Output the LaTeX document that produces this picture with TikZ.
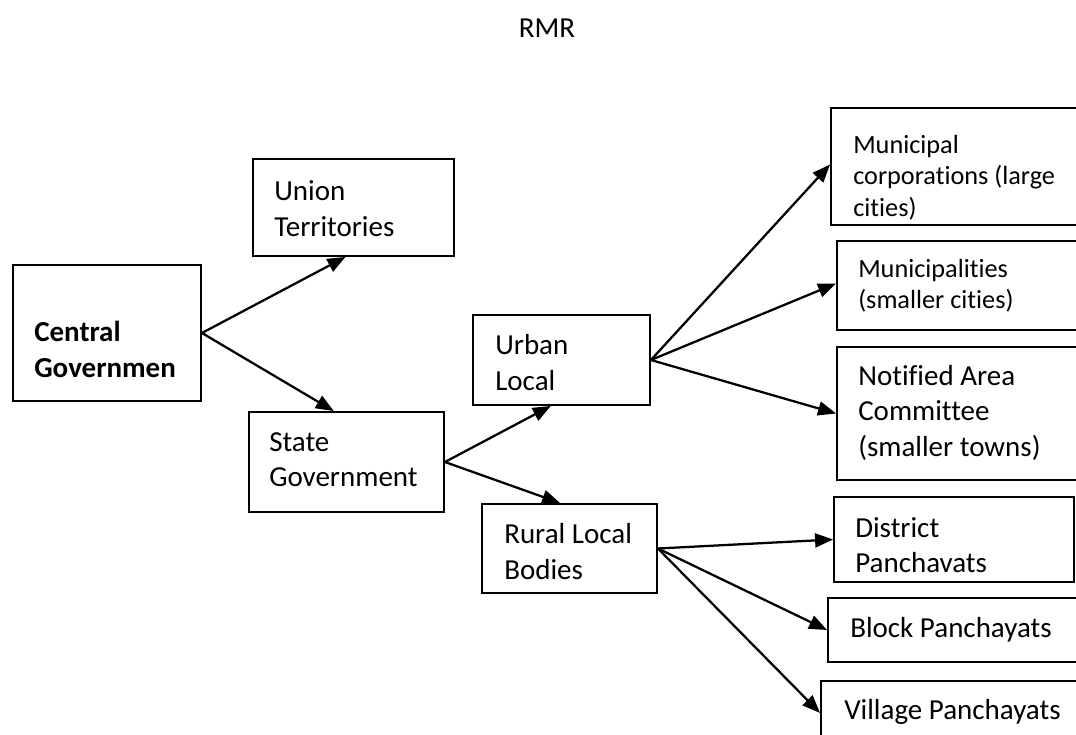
\documentclass[tikz,border=0pt]{standalone}
\usepackage{fontspec}
\setmainfont{Carlito}[RawFeature={-liga,-clig,-calt,-dlig}]
\usetikzlibrary{fit,arrows.meta}
\begin{document}
\begin{tikzpicture}[x=0.75pt,y=-0.75pt,
  box/.style={draw=black,line width=1.4pt,inner sep=0pt,fill=none},
  txt/.style={anchor=west,align=left,inner sep=0pt,font=\fontsize{21.75}{26.6}\selectfont},
  smalltxt/.style={anchor=west,align=left,inner sep=0pt,font=\fontsize{19.7}{23.5}\selectfont},
  arr/.style={line width=1.7pt,-{Triangle[length=13.5pt,width=10.5pt]}}]
\fill[white] (0,0) rectangle (1076,735);
\useasboundingbox (0,0) rectangle (1076,735);
% title
\node[inner sep=0pt,font=\fontsize{21.75}{26.6}\selectfont] (title) at (547,28) {RMR};
% boxes
\node[box,fit={(253,159) (454,256)}] (union) {};
\node[box,fit={(13,265) (201,401)}] (central) {};
\node[box,fit={(249,412) (444,512)}] (state) {};
\node[box,fit={(473,315) (650,405)}] (urban) {};
\node[box,fit={(482,504) (657,593)}] (rural) {};
\node[box,fit={(831,108) (1090,225)}] (municipal) {};
\node[box,fit={(837,241) (1090,330)}] (municipalities) {};
\node[box,fit={(837,347) (1090,480)}] (notified) {};
\node[box,fit={(834,497) (1074,582)}] (district) {};
\node[box,fit={(828,598) (1090,662)}] (block) {};
\node[box,fit={(821,681) (1090,745)}] (village) {};
% texts
\node[txt] (uniont) at (274,208.5) {Union\\Territories};
\node[txt,font=\fontsize{21.75}{26.6}\selectfont\bfseries] (centralt) at (34,349.5) {Central\\Governmen};
\node[txt] (statet) at (269,459.5) {State\\Government};
\node[txt] (urbant) at (495,362.5) {Urban\\Local};
\node[txt] (ruralt) at (504,551.5) {Rural Local\\Bodies};
\node[smalltxt] (municipalt) at (853,177.5) {Municipal\\corporations (large\\cities)};
\node[smalltxt] (municipalitiest) at (858,286) {Municipalities\\(smaller cities)};
\node[txt] (notifiedt) at (858,412.5) {Notified Area\\Committee\\(smaller towns)};
\node[txt] (districtt) at (855,545) {District\\Panchavats};
\node[txt] (blockt) at (850,630) {Block Panchayats};
\node[txt] (villaget) at (844,712) {Village Panchayats};
% arrows
\draw[arr] (central.east) -- ([xshift=-6]union.south);
\draw[arr] (central.east) -- ([xshift=-9.5]state.north);
\draw[arr] (state.east) -- ([xshift=-8]urban.south);
\draw[arr] (state.east) -- ([xshift=-7]rural.north);
\draw[arr] (urban.east) -- ([yshift=1.5]municipal.west);
\draw[arr] (urban.east) -- ([yshift=1.5]municipalities.west);
\draw[arr] (urban.east) -- (notified.west);
\draw[arr] (rural.east) -- (district.west);
\draw[arr] (rural.east) -- (block.west);
\draw[arr] (rural.east) -- (village.west);
\end{tikzpicture}
\end{document}
